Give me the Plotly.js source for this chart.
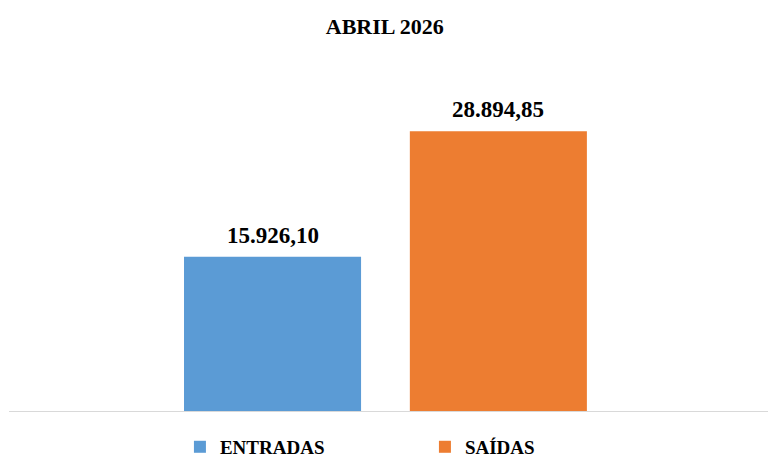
<!DOCTYPE html>
<html>
<head>
<meta charset="utf-8">
<script src="https://cdn.plot.ly/plotly-3.0.1.min.js"></script>
<style>html,body{margin:0;padding:0;background:#fff;}#chart{width:768px;height:457px;}</style>
</head>
<body>
<div id="chart"></div>
<script>
const titleText = "ABRIL 2026";
const seriesNames = ["ENTRADAS", "SAÍDAS"];
const seriesValues = [15926.10, 28894.85];
const valueLabels = ["15.926,10", "28.894,85"];
const seriesColors = ["#5B9BD5", "#ED7D31"];

const fontFam = "Liberation Serif";

const traces = seriesNames.map((name, i) => ({
  type: "bar",
  name: "<b>" + name + "</b>",
  x: [name],
  y: [seriesValues[i]],
  marker: {color: seriesColors[i]},
  hoverinfo: "none"
}));

const annotations = seriesNames.map((name, i) => ({
  x: name,
  y: seriesValues[i],
  xref: "x",
  yref: "y",
  text: "<b>" + valueLabels[i] + "</b>",
  showarrow: false,
  yanchor: "bottom",
  yshift: 7,
  font: {family: fontFam, size: 23, color: "#000"}
}));

const layout = {
  width: 768,
  height: 457,
  margin: {l: 9, r: 0, t: 72, b: 46, autoexpand: false},
  font: {family: fontFam, color: "#000"},
  paper_bgcolor: "#fff",
  plot_bgcolor: "#fff",
  barmode: "overlay",
  bargap: 0.216,
  title: {
    text: "<b>" + titleText + "</b>",
    x: 0.501, xref: "container", xanchor: "center",
    y: 0.943, yref: "container", yanchor: "middle",
    font: {family: fontFam, size: 22, color: "#000"}
  },
  xaxis: {
    type: "category",
    range: [-1.167, 2.194],
    showticklabels: false,
    ticks: "",
    showgrid: false,
    zeroline: false,
    showline: true,
    linecolor: "#D9D9D9",
    linewidth: 1,
    fixedrange: true
  },
  yaxis: {
    range: [0, 35000],
    visible: false,
    showgrid: false,
    zeroline: false,
    fixedrange: true
  },
  showlegend: true,
  legend: {
    orientation: "h",
    x: 0.548, xanchor: "center",
    y: -0.106, yanchor: "middle",
    font: {family: fontFam, size: 19, color: "#000"},
    entrywidth: 200,
    traceorder: "normal"
  },
  annotations: annotations
};

Plotly.newPlot("chart", traces, layout, {displayModeBar: false, staticPlot: true});
</script>
</body>
</html>
